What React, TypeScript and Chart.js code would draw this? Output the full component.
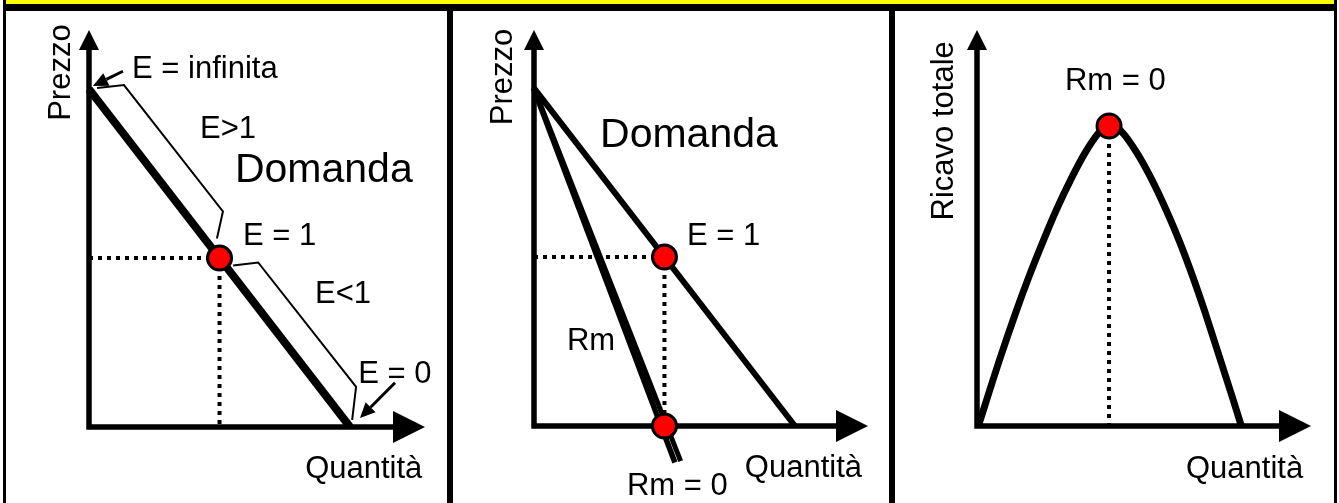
import React, { useEffect, useRef } from "react";
import { Chart, registerables } from "chart.js";

Chart.register(...registerables);

const FONT = '"Liberation Sans", Arial, Helvetica, sans-serif';

// ---------- Panel 1: elasticity along the demand curve ----------
const demand1: number[][] = [[0, 10], [10, 0]];
const upperBracket: number[][] = [[0.31, 10.03], [1.34, 10.12], [5.13, 6.38], [4.9, 5.58]];
const lowerBracket: number[][] = [[5.52, 4.78], [6.48, 4.87], [10.23, 1.19], [10.08, 0.21]];
const unitPoint1: number[][] = [[5, 5]];
const guideH1: number[][] = [[0, 5], [5, 5]];
const guideV1: number[][] = [[5, 5], [5, 0]];
const arrowInfinite: number[][] = [[1.3, 10.53], [0.15, 10.09]];
const arrowZero: number[][] = [[11.72, 1.31], [10.38, 0.27]];

// ---------- Panel 2: demand and marginal revenue ----------
const demand2: number[][] = [[0, 10], [10, 0]];
const marginalRevenueA: number[][] = [[-0.02, 10.0], [5.4, -1.08]];
const marginalRevenueB: number[][] = [[0.02, 9.96], [5.62, -1.04]];
const unitPoint2: number[][] = [[5, 5]];
const zeroRmPoint: number[][] = [[5, 0]];
const guideH2: number[][] = [[0, 5], [5, 5]];
const guideV2: number[][] = [[5, 5], [5, 0]];

// ---------- Panel 3: total revenue ----------
const quantity3: number[] = [0.05, 0.9, 1.52, 1.99, 2.5, 3.04, 3.65, 4.13, 4.65, 5.06, 5.6, 6.14, 6.64, 7.25, 7.79, 8.27, 8.71, 9.12, 9.82, 10.13];
const totalRevenue: number[] = [0, 5.75, 9.67, 12.44, 15.22, 18.0, 20.78, 22.72, 24.39, 25.2, 24.39, 22.72, 20.78, 18.0, 15.22, 12.44, 9.67, 6.92, 2.17, 0];
const peakPoint: number[][] = [[5.06, 25]];
const guideV3: number[][] = [[5.06, 25], [5.06, 0]];

// axis ranges (quantity, price, revenue)
const Q_MAX_1 = 12.87;
const P_MAX_1 = 11.75;
const Q_MAX_2 = 12.8;
const P_MAX_2 = 11.72;
const Q_MAX_3 = 12.8;
const TR_MAX_3 = 33;

type Label = { text: string; at: number[]; size?: number; rotate?: boolean };

const labels1: Label[] = [
  { text: "Prezzo", at: [-0.73, 10.49], rotate: true },
  { text: "E = infinita", at: [1.65, 10.33] },
  { text: "E>1", at: [4.25, 8.55] },
  { text: "Domanda", at: [5.59, 7.25], size: 41 },
  { text: "E = 1", at: [5.9, 5.38] },
  { text: "E<1", at: [8.66, 3.67] },
  { text: "E = 0", at: [10.31, 1.3] },
  { text: "Quantità", at: [8.28, -1.51] },
];
const labels2: Label[] = [
  { text: "Prezzo", at: [-0.84, 10.33], rotate: true },
  { text: "Domanda", at: [2.53, 8.25], size: 41 },
  { text: "E = 1", at: [5.86, 5.36] },
  { text: "Rm", at: [1.26, 2.25] },
  { text: "Rm = 0", at: [3.56, -2.04] },
  { text: "Quantità", at: [8.08, -1.51] },
];
const labels3: Label[] = [
  { text: "Ricavo totale", at: [-0.92, 24.6], rotate: true },
  { text: "Rm = 0", at: [3.37, 28] },
  { text: "Quantità", at: [8.01, -4.33] },
];

const toXY = (pts: number[][]) => pts.map(([x, y]) => ({ x, y }));

const lineDs = (pts: number[][], width: number, extra: any = {}) => ({
  data: toXY(pts),
  showLine: true,
  borderColor: "#000",
  borderWidth: width,
  pointRadius: 0,
  clip: false,
  borderCapStyle: "butt",
  ...extra,
});

const dottedDs = (pts: number[][]) =>
  lineDs(pts, 4, { borderDash: [4, 5], order: 5 });

const dotDs = (pts: number[][]) => ({
  data: toXY(pts),
  showLine: false,
  pointRadius: 12,
  pointBackgroundColor: "#ff0000",
  pointBorderColor: "#000",
  pointBorderWidth: 3,
  clip: false,
  order: 0,
});

const axesPlugin = {
  id: "arrowAxes",
  beforeDatasetsDraw(chart: any) {
    const { ctx, chartArea } = chart;
    const { left, right, top, bottom } = chartArea;
    ctx.save();
    ctx.strokeStyle = "#000";
    ctx.fillStyle = "#000";
    ctx.lineWidth = 5.5;
    ctx.lineCap = "square";
    ctx.beginPath();
    ctx.moveTo(left, bottom);
    ctx.lineTo(left, top + 18);
    ctx.moveTo(left, bottom);
    ctx.lineTo(right - 30, bottom);
    ctx.stroke();
    ctx.beginPath();
    ctx.moveTo(left, top);
    ctx.lineTo(left - 10, top + 20);
    ctx.lineTo(left + 10, top + 20);
    ctx.closePath();
    ctx.fill();
    ctx.beginPath();
    ctx.moveTo(right, bottom);
    ctx.lineTo(right - 32, bottom - 16);
    ctx.lineTo(right - 32, bottom + 16);
    ctx.closePath();
    ctx.fill();
    ctx.restore();
  },
};

const makeAnnotations = (labels: Label[], arrows: number[][][]) => ({
  id: "annotations",
  afterDatasetsDraw(chart: any) {
    const { ctx } = chart;
    const xs = chart.scales.x;
    const ys = chart.scales.y;
    const px = (p: number[]) => [xs.getPixelForValue(p[0]), ys.getPixelForValue(p[1])];
    ctx.save();
    ctx.strokeStyle = "#000";
    ctx.fillStyle = "#000";
    for (const a of arrows) {
      const [x0, y0] = px(a[0]);
      const [x1, y1] = px(a[1]);
      const ang = Math.atan2(y1 - y0, x1 - x0);
      const headLen = 15;
      const headHalf = 7;
      const bx = x1 - headLen * Math.cos(ang);
      const by = y1 - headLen * Math.sin(ang);
      ctx.lineWidth = 3;
      ctx.beginPath();
      ctx.moveTo(x0, y0);
      ctx.lineTo(bx, by);
      ctx.stroke();
      ctx.beginPath();
      ctx.moveTo(x1, y1);
      ctx.lineTo(bx + headHalf * Math.sin(ang), by - headHalf * Math.cos(ang));
      ctx.lineTo(bx - headHalf * Math.sin(ang), by + headHalf * Math.cos(ang));
      ctx.closePath();
      ctx.fill();
    }
    for (const l of labels) {
      const [x, y] = px(l.at);
      ctx.font = `${l.size || 31}px ${FONT}`;
      ctx.textBaseline = "alphabetic";
      if (l.rotate) {
        ctx.save();
        ctx.translate(x, y);
        ctx.rotate(-Math.PI / 2);
        ctx.textAlign = "center";
        ctx.fillText(l.text, 0, 0);
        ctx.restore();
      } else {
        ctx.textAlign = "left";
        ctx.fillText(l.text, x, y);
      }
    }
    ctx.restore();
  },
});

type PanelSpec = {
  left: number;
  width: number;
  padding: { left: number; right: number; top: number; bottom: number };
  xMax: number;
  yMax: number;
  datasets: any[];
  labels: Label[];
  arrows: number[][][];
};

function Panel({ spec }: { spec: PanelSpec }) {
  const ref = useRef<HTMLCanvasElement | null>(null);
  useEffect(() => {
    if (!ref.current) return;
    const chart = new Chart(ref.current, {
      type: "scatter",
      data: { datasets: spec.datasets },
      options: {
        animation: false,
        responsive: false,
        maintainAspectRatio: false,
        devicePixelRatio: 1,
        events: [],
        layout: { padding: spec.padding },
        scales: {
          x: { type: "linear", display: false, min: 0, max: spec.xMax },
          y: { type: "linear", display: false, min: 0, max: spec.yMax },
        },
        plugins: { legend: { display: false }, tooltip: { enabled: false } },
      } as any,
      plugins: [axesPlugin, makeAnnotations(spec.labels, spec.arrows)],
    });
    return () => chart.destroy();
  }, [spec]);
  return (
    <canvas
      ref={ref}
      width={spec.width}
      height={492}
      style={{ position: "absolute", left: spec.left, top: 11, width: spec.width, height: 492 }}
    />
  );
}

const panel1: PanelSpec = {
  left: 6,
  width: 441,
  padding: { left: 83, right: 22, top: 19, bottom: 76 },
  xMax: Q_MAX_1,
  yMax: P_MAX_1,
  datasets: [
    dotDs(unitPoint1),
    lineDs(demand1, 8, { order: 2 }),
    lineDs(upperBracket, 2, { order: 3, borderJoinStyle: "miter" }),
    lineDs(lowerBracket, 2, { order: 3, borderJoinStyle: "miter" }),
    dottedDs(guideH1),
    dottedDs(guideV1),
  ],
  labels: labels1,
  arrows: [arrowInfinite, arrowZero],
};

const panel2: PanelSpec = {
  left: 453,
  width: 436,
  padding: { left: 81, right: 21, top: 19, bottom: 77 },
  xMax: Q_MAX_2,
  yMax: P_MAX_2,
  datasets: [
    dotDs(unitPoint2),
    dotDs(zeroRmPoint),
    lineDs(demand2, 6, { order: 2 }),
    lineDs(marginalRevenueA, 5.5, { order: 2 }),
    lineDs(marginalRevenueB, 5, { order: 2 }),
    dottedDs(guideH2),
    dottedDs(guideV2),
  ],
  labels: labels2,
  arrows: [],
};

const panel3: PanelSpec = {
  left: 895,
  width: 439,
  padding: { left: 82, right: 23, top: 19, bottom: 77 },
  xMax: Q_MAX_3,
  yMax: TR_MAX_3,
  datasets: [
    dotDs(peakPoint),
    {
      data: quantity3.map((q, i) => ({ x: q, y: totalRevenue[i] })),
      showLine: true,
      borderColor: "#000",
      borderWidth: 7,
      pointRadius: 0,
      cubicInterpolationMode: "monotone",
      clip: false,
      order: 2,
    },
    dottedDs(guideV3),
  ],
  labels: labels3,
  arrows: [],
};

export default function App() {
  return (
    <div
      style={{
        position: "fixed",
        left: 0,
        top: 0,
        width: 1339,
        height: 503,
        background: "#fff",
        overflow: "hidden",
      }}
    >
      <div style={{ position: "absolute", left: 6, top: 0, width: 1328, height: 4, background: "#ffff00" }} />
      <div style={{ position: "absolute", left: 3, top: 4, width: 1334, height: 7, background: "#000" }} />
      <div style={{ position: "absolute", left: 3, top: 0, width: 3, height: 503, background: "#000" }} />
      <div style={{ position: "absolute", left: 1334, top: 0, width: 3, height: 503, background: "#000" }} />
      <div style={{ position: "absolute", left: 447, top: 4, width: 6, height: 499, background: "#000" }} />
      <div style={{ position: "absolute", left: 889, top: 4, width: 6, height: 499, background: "#000" }} />
      <Panel spec={panel1} />
      <Panel spec={panel2} />
      <Panel spec={panel3} />
    </div>
  );
}
